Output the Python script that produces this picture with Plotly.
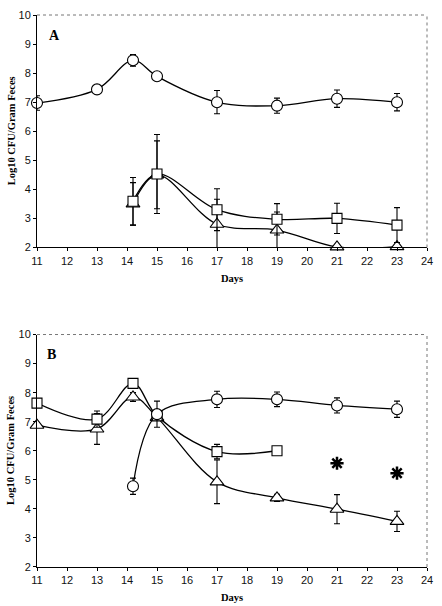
import plotly.graph_objects as go

# ---------------- data ----------------
# Panel A
a_circle_days = [11, 13, 14.2, 15, 17, 19, 21, 23]
a_circle_vals = [6.97, 7.44, 8.44, 7.89, 7.0, 6.88, 7.12, 7.0]
a_circle_err = [0.25, 0.1, 0.2, 0.07, 0.4, 0.26, 0.3, 0.3]

a_square_days = [14.2, 15, 17, 19, 21, 23]
a_square_vals = [3.59, 4.53, 3.3, 2.97, 3.0, 2.77]
a_square_err = [0.82, 1.36, 0.72, 0.54, 0.52, 0.6]

a_tri_days = [14.2, 15, 17, 19, 21, 23]
a_tri_vals = [3.5, 4.5, 2.8, 2.6, 2.02, 2.03]
a_tri_err = [0.73, 1.17, 0.86, 0.62, 0.0, 0.0]

# Panel B
b_circle_days = [14.2, 15, 17, 19, 21, 23]
b_circle_vals = [4.78, 7.26, 7.77, 7.77, 7.56, 7.43]
b_circle_err = [0.28, 0.45, 0.28, 0.25, 0.26, 0.28]

b_square_days = [11, 13, 14.2, 15, 17, 19]
b_square_vals = [7.64, 7.09, 8.32, 7.2, 5.97, 6.0]
b_square_err = [0.0, 0.28, 0.05, 0.1, 0.25, 0.1]

b_tri_days = [11, 13, 14.2, 15, 17, 19, 21, 23]
b_tri_vals = [6.88, 6.75, 7.85, 7.15, 4.93, 4.38, 3.99, 3.57]
b_tri_err = [0.0, 0.53, 0.15, 0.1, 0.75, 0.12, 0.5, 0.35]

b_star_days = [21, 23]
b_star_vals = [5.57, 5.23]

x_ticks = list(range(11, 25))
y_ticks = list(range(2, 11))
panel_labels = ["A", "B"]
x_title = "Days"
y_title = "Log10 CFU/Gram Feces"

# ---------------- figure ----------------
W, H = 442, 606
fig = go.Figure()

def series(x, y, err, symbol, size, xa, ya):
    fig.add_trace(go.Scatter(
        x=x, y=y, mode="lines+markers",
        line=dict(color="black", width=1.3, shape="spline", smoothing=1),
        marker=dict(symbol=symbol, size=size, color="white",
                    line=dict(color="black", width=1.1)),
        error_y=dict(type="data", array=err, visible=True, color="black",
                     thickness=1.1, width=3),
        cliponaxis=False,
        xaxis=xa, yaxis=ya, showlegend=False, hoverinfo="x+y"))

# draw in order so circles lie on top where they overlap
series(a_tri_days, a_tri_vals, a_tri_err, "triangle-up", 12, "x", "y")
series(a_square_days, a_square_vals, a_square_err, "square", 10, "x", "y")
series(a_circle_days, a_circle_vals, a_circle_err, "circle", 11, "x", "y")

series(b_tri_days, b_tri_vals, b_tri_err, "triangle-up", 12, "x2", "y2")
series(b_square_days, b_square_vals, b_square_err, "square", 10, "x2", "y2")
series(b_circle_days, b_circle_vals, b_circle_err, "circle", 11, "x2", "y2")

fig.add_trace(go.Scatter(
    x=b_star_days, y=b_star_vals, mode="markers",
    marker=dict(symbol="asterisk-open", size=11, color="black",
                line=dict(color="black", width=2.5)),
    xaxis="x2", yaxis="y2", showlegend=False))

# plot areas in pixels
L, R = 37, 429
topA, botA = 9, 244
topB, botB = 332, 567
mt, mb = topA, H - botB
ph = H - mt - mb

def dom(t, b):
    return [(botB - b) / ph, (botB - t) / ph]

tickfont = dict(family="Liberation Sans, Arial, sans-serif", size=11, color="#111")
axis_common = dict(showgrid=False, zeroline=False, showline=True,
                   linecolor="black", linewidth=1, ticks="outside",
                   ticklen=3, tickwidth=1, tickcolor="black", tickfont=tickfont)

fig.update_layout(
    width=W, height=H,
    margin=dict(l=L, r=W - R, t=mt, b=mb),
    paper_bgcolor="white", plot_bgcolor="white",
    xaxis=dict(domain=[0, 1], anchor="y", range=[11, 24], tickvals=x_ticks, **axis_common),
    yaxis=dict(domain=dom(topA, botA), anchor="x", range=[2, 10], tickvals=y_ticks, **axis_common),
    xaxis2=dict(domain=[0, 1], anchor="y2", range=[11, 24], tickvals=x_ticks, **axis_common),
    yaxis2=dict(domain=dom(topB, botB), anchor="x2", range=[2, 10], tickvals=y_ticks, **axis_common),
)

# dotted gray frame for top and right edges
for xr, yr in (("x domain", "y domain"), ("x2 domain", "y2 domain")):
    fig.add_shape(type="line", xref=xr, yref=yr, x0=0, x1=1, y0=1, y1=1,
                  line=dict(color="#777", width=1, dash="dot"))
    fig.add_shape(type="line", xref=xr, yref=yr, x0=1, x1=1, y0=0, y1=1,
                  line=dict(color="#777", width=1, dash="dot"))

titlefont = dict(family="Liberation Serif, Times New Roman, serif", size=10.5, color="black")
letterfont = dict(family="Liberation Serif, Times New Roman, serif", size=14, color="black")

for i, (t, b) in enumerate(((topA, botA), (topB, botB))):
    yc = 1 - ((t + b) / 2 - mt) / ph
    # y title
    fig.add_annotation(text="<b>%s</b>" % y_title, xref="paper", yref="paper",
                       x=(11 - L) / (R - L), y=yc, xanchor="center", yanchor="middle",
                       textangle=-90, showarrow=False, font=titlefont)
    # x title
    fig.add_annotation(text="<b>%s</b>" % x_title, xref="paper", yref="paper",
                       x=0.5, y=1 - ((b + 31) - mt) / ph, xanchor="center", yanchor="middle",
                       showarrow=False, font=titlefont)
    # panel letter
    lx = 55 if i == 0 else 52
    ly = 30 if i == 0 else 352
    fig.add_annotation(text="<b>%s</b>" % panel_labels[i], xref="paper", yref="paper",
                       x=(lx - L) / (R - L), y=1 - (ly - mt) / ph,
                       xanchor="center", yanchor="middle", showarrow=False, font=letterfont)

fig.write_html("out.html",
               config={"displayModeBar": False},
               post_script="document.body.style.margin='0';document.body.style.overflow='hidden';")
